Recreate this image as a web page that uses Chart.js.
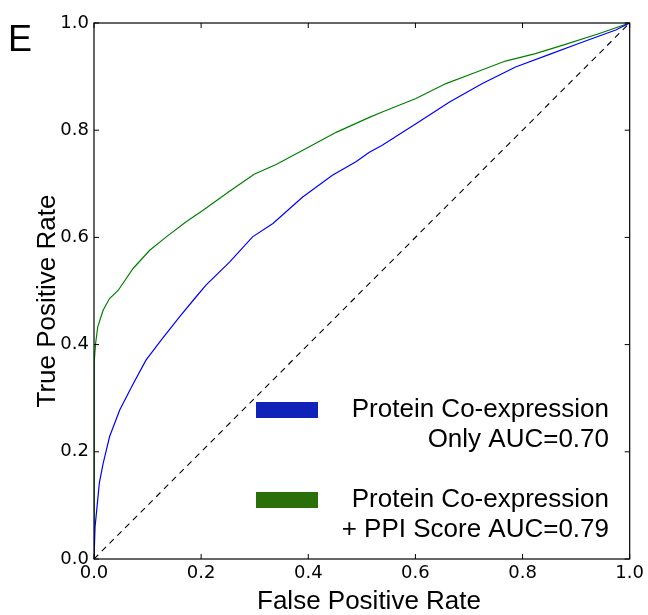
<!DOCTYPE html>
<html>
<head>
<meta charset="utf-8">
<script src="https://cdn.jsdelivr.net/npm/chart.js@4"></script>
<style>
html, body { margin: 0; padding: 0; background: #fff; }
#wrap { width: 648px; height: 615px; position: relative; }
</style>
</head>
<body>
<div id="wrap"><canvas id="roc"></canvas></div>
<script>
// ROC points
var fprCoexp = [0, 0.002, 0.010, 0.017, 0.029, 0.048, 0.070, 0.097, 0.125, 0.160, 0.188, 0.209, 0.253, 0.296, 0.334, 0.389, 0.445, 0.489, 0.514, 0.538, 0.601, 0.663, 0.725, 0.787, 0.849, 0.911, 0.974, 1];
var tprCoexp = [0, 0.060, 0.142, 0.178, 0.228, 0.278, 0.321, 0.371, 0.408, 0.452, 0.486, 0.511, 0.554, 0.601, 0.626, 0.675, 0.716, 0.741, 0.759, 0.772, 0.812, 0.852, 0.887, 0.918, 0.941, 0.964, 0.987, 1];

var fprPpi = [0, 0, 0.001, 0.003, 0.007, 0.017, 0.029, 0.045, 0.073, 0.104, 0.135, 0.172, 0.203, 0.253, 0.299, 0.340, 0.402, 0.452, 0.514, 0.538, 0.601, 0.657, 0.713, 0.768, 0.824, 0.880, 0.942, 1];
var tprPpi = [0, 0.330, 0.370, 0.402, 0.433, 0.464, 0.486, 0.501, 0.542, 0.576, 0.601, 0.629, 0.650, 0.686, 0.718, 0.736, 0.769, 0.796, 0.824, 0.834, 0.859, 0.887, 0.908, 0.929, 0.943, 0.960, 0.980, 1];

var chanceLine = [0, 1];
var tickValues = [0, 0.2, 0.4, 0.6, 0.8, 1.0];

var xTitle = 'False Positive Rate';
var yTitle = 'True Positive Rate';
var legendLines = [
    ['Protein Co-expression', 'Only AUC=0.70'],
    ['Protein Co-expression', '+ PPI Score AUC=0.79']
];
var legendColors = ['#1122bb', '#2b6f0b'];

function toPoints(xs, ys) {
    return xs.map(function (x, i) { return { x: x, y: ys[i] }; });
}

// frame, inward ticks on all four sides, axis titles, panel letter and the legend
var framePlugin = {
    id: 'frame',
    afterDatasetsDraw: function (chart) {
        var c = chart.ctx;
        var a = chart.chartArea;
        var xs = chart.scales.x, ys = chart.scales.y;
        c.save();
        c.strokeStyle = '#000';
        c.lineWidth = 1.2;
        c.strokeRect(a.left, a.top, a.right - a.left, a.bottom - a.top);
        c.lineWidth = 1;
        tickValues.forEach(function (v) {
            var px = xs.getPixelForValue(v);
            var py = ys.getPixelForValue(v);
            c.beginPath();
            c.moveTo(px, a.bottom); c.lineTo(px, a.bottom - 5);
            c.moveTo(px, a.top); c.lineTo(px, a.top + 5);
            c.moveTo(a.left, py); c.lineTo(a.left + 5, py);
            c.moveTo(a.right, py); c.lineTo(a.right - 5, py);
            c.stroke();
        });

        c.fillStyle = '#000';
        c.textBaseline = 'alphabetic';

        // axis titles
        c.font = '26px "Liberation Sans", Arial, sans-serif';
        c.textAlign = 'center';
        c.fillText(xTitle, 369, 609);
        c.save();
        c.translate(55, 301);
        c.rotate(-Math.PI / 2);
        c.fillText(yTitle, 0, 0);
        c.restore();

        c.font = '36px "Liberation Sans", Arial, sans-serif';
        c.textAlign = 'left';
        c.fillText('E', 8, 51);

        // legend
        c.font = '26px "Liberation Sans", Arial, sans-serif';
        c.textAlign = 'right';
        var textRight = 609;
        var rowTop = [393, 483];
        legendLines.forEach(function (lines, i) {
            c.fillStyle = legendColors[i];
            c.fillRect(256, rowTop[i] + 9, 62, 16);
            c.fillStyle = '#000';
            c.fillText(lines[0], textRight, rowTop[i] + 24);
            c.fillText(lines[1], textRight, rowTop[i] + 54);
        });
        c.restore();
    }
};

var ctx = document.getElementById('roc').getContext('2d');

var config = {
    type: 'line',
    data: {
        datasets: [
            {
                label: 'chance',
                data: toPoints(chanceLine, chanceLine),
                borderColor: '#000',
                borderWidth: 1.1,
                borderDash: [6, 5],
                pointRadius: 0,
                fill: false
            },
            {
                label: 'Protein Co-expression Only AUC=0.70',
                data: toPoints(fprCoexp, tprCoexp),
                borderColor: '#0000ff',
                borderWidth: 1.2,
                pointRadius: 0,
                tension: 0,
                fill: false
            },
            {
                label: 'Protein Co-expression + PPI Score AUC=0.79',
                data: toPoints(fprPpi, tprPpi),
                borderColor: '#008000',
                borderWidth: 1.2,
                pointRadius: 0,
                tension: 0,
                fill: false
            }
        ]
    },
    options: {
        responsive: true,
        maintainAspectRatio: false,
        animation: false,
        layout: { padding: { left: 0, right: 17, top: 23, bottom: 0 } },
        plugins: {
            legend: { display: false },
            tooltip: { enabled: false }
        },
        scales: {
            x: {
                type: 'linear',
                min: 0,
                max: 1,
                grid: { display: false, drawTicks: false },
                border: { display: false },
                ticks: {
                    stepSize: 0.2,
                    color: '#000',
                    padding: 4,
                    font: { family: '"DejaVu Sans", sans-serif', size: 18 },
                    callback: function (v) { return v.toFixed(1); }
                },
                afterFit: function (scale) { scale.height = 56; }
            },
            y: {
                type: 'linear',
                min: 0,
                max: 1,
                grid: { display: false, drawTicks: false },
                border: { display: false },
                ticks: {
                    stepSize: 0.2,
                    color: '#000',
                    padding: 5,
                    font: { family: '"DejaVu Sans", sans-serif', size: 18 },
                    callback: function (v) { return v.toFixed(1); }
                },
                afterFit: function (scale) { scale.width = 94; }
            }
        }
    },
    plugins: [framePlugin]
};

var roc = new Chart(ctx, config);
</script>
</body>
</html>
